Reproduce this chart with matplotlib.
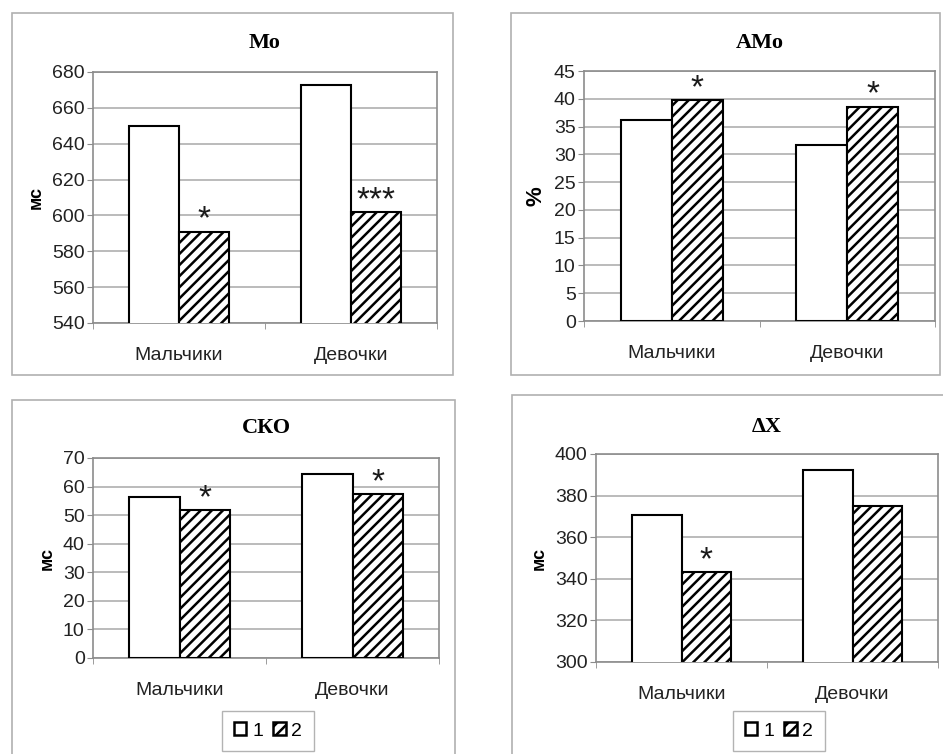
import matplotlib
matplotlib.use('Agg')
from matplotlib import pyplot as plt
from matplotlib.patches import Rectangle, Patch

plt.rcParams['font.family'] = ['Liberation Sans', 'DejaVu Sans']
plt.rcParams['hatch.linewidth'] = 1.8

W, H = 943, 754

groups = ['Мальчики', 'Девочки']
series_names = ['1', '2']

mo_1 = [650, 673]
mo_2 = [591, 602]
mo_stars = ['*', '***']

amo_1 = [36.2, 31.7]
amo_2 = [39.7, 38.6]
amo_stars = ['*', '*']

sko_1 = [56.5, 64.5]
sko_2 = [51.8, 57.3]
sko_stars = ['*', '*']

dx_1 = [370.7, 392.3]
dx_2 = [343.4, 375.1]
dx_stars = ['*', '']

GRAY = '#8c8c8c'


def px_rect(x0, y0, x1, y1):
    # pixel box (top-left origin) -> figure fraction [l, b, w, h]
    return [x0 / W, 1 - y1 / H, (x1 - x0) / W, (y1 - y0) / H]


def frame(x0, y0, x1, y1):
    l, b, w, h = px_rect(x0, y0, x1, y1)
    fig.patches.append(Rectangle((l, b), w, h, transform=fig.transFigure,
                                 fill=False, edgecolor='#b0b0b0', lw=1.2, zorder=0))


def panel(box, title, title_y, ylabel, v1, v2, stars, ylim, step):
    ax = fig.add_axes(px_rect(*box))
    w = 0.29
    x = [0, 1]
    ax.bar([i - w / 2 for i in x], v1, w, color='white', edgecolor='black', lw=1.5, zorder=3)
    ax.bar([i + w / 2 for i in x], v2, w, color='white', edgecolor='black', lw=1.5,
           hatch='///', zorder=3)
    for i in x:
        if stars[i]:
            ax.annotate(stars[i], (i + w / 2, v2[i]), xytext=(0, -3),
                        textcoords='offset points', ha='center', va='bottom',
                        fontsize=24, color='#1a1a1a')
    ax.set_xlim(-0.5, 1.5)
    ax.set_ylim(*ylim)
    ax.set_yticks(range(ylim[0], ylim[1] + 1, step))
    ax.set_xticks(x)
    ax.set_xticklabels(groups, fontsize=14, color='#222222')
    ax.set_xticks([-0.5, 0.5, 1.5], minor=True)
    ax.tick_params(axis='x', which='major', length=0, pad=17)
    ax.tick_params(axis='x', which='minor', length=4, color=GRAY, direction='out')
    ax.tick_params(axis='y', length=4, color=GRAY, labelsize=14, labelcolor='#222222', pad=2)
    ax.yaxis.grid(True, color='#a8a8a8', lw=1.1, zorder=0)
    ax.set_axisbelow(True)
    for s in ax.spines.values():
        s.set_color(GRAY)
        s.set_linewidth(1.2)
    ax.set_ylabel(ylabel, fontsize=16 if ylabel == '%' else 13, fontweight='bold', labelpad=5)
    cx = (box[0] + box[2]) / 2 / W
    fig.text(cx, 1 - title_y / H, title, ha='center', va='center', fontsize=16,
             fontweight='bold', family='Liberation Serif')
    return ax


fig = plt.figure(figsize=(W / 100, H / 100), dpi=100)

frame(12, 13, 453, 375)
frame(511, 13, 940, 375)
frame(12, 400, 455, 760)
frame(512, 395, 945, 760)

panel((93, 72, 437, 323), 'Мо', 43, 'мс', mo_1, mo_2, mo_stars, (540, 680), 20)
panel((584, 71, 935, 321), 'АМо', 43, '%', amo_1, amo_2, amo_stars, (0, 45), 5)
panel((93, 458, 439, 658), 'СКО', 428, 'мс', sko_1, sko_2, sko_stars, (0, 70), 10)
panel((596, 454, 938, 662), 'ΔX', 427, 'мс', dx_1, dx_2, dx_stars, (300, 400), 20)

handles = [Patch(facecolor='white', edgecolor='black', lw=1.8, label=series_names[0]),
           Patch(facecolor='white', edgecolor='black', lw=1.8, hatch='///', label=series_names[1])]
for cx in (268, 779):
    fig.legend(handles=handles, loc='center', bbox_to_anchor=(cx / W, 1 - 731 / H),
               ncol=2, fontsize=14, handlelength=0.65, handleheight=0.65,
               handletextpad=0.3, columnspacing=0.5, frameon=True, fancybox=False,
               edgecolor='#a0a0a0', borderpad=0.6)

plt.savefig('out.png', dpi=100)
